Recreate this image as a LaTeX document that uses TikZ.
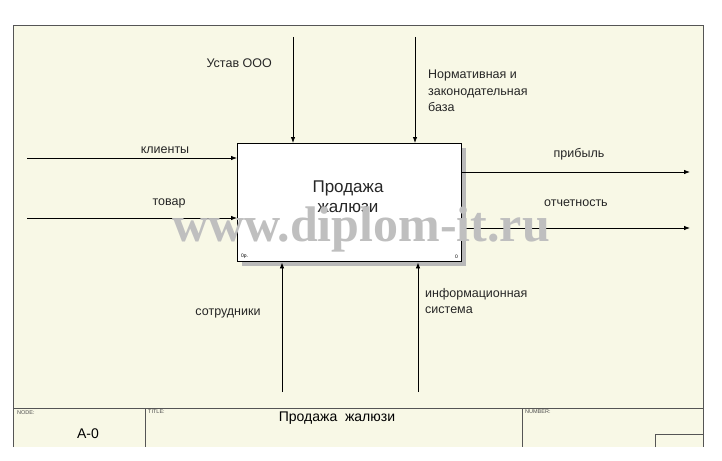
\documentclass[tikz,border=0pt]{standalone}
\usepackage{fontspec}
\setmainfont{Liberation Sans}
\newfontfamily\wmfont{Liberation Serif}
\usetikzlibrary{arrows.meta}
\definecolor{cream}{HTML}{F8F8E6}
\definecolor{framegray}{HTML}{555555}
\begin{document}
\begin{tikzpicture}[x=1pt,y=-1pt,
  frameline/.style={draw=framegray, line width=0.9pt},
  arr/.style={draw=black, line width=0.8pt, -{Latex[length=6pt,width=4.5pt]}},
  lbl/.style={font=\fontsize{12.5}{16.5}\selectfont, inner sep=0pt, text=black!85},
  tiny/.style={font=\fontsize{5.5}{6}\selectfont, inner sep=0pt, anchor=north west, text=black!70}]
\useasboundingbox (0,0) rectangle (722,460);
\fill[white] (0,0) rectangle (722,460);
\fill[cream] (13,25) rectangle (703,447);
\draw[frameline] (13,447) -- (13,25) -- (703,25) -- (703,447);
\draw[frameline] (13,408) -- (703,408);
\draw[frameline] (145,408) -- (145,447);
\draw[frameline] (522,408) -- (522,447);
\draw[frameline] (655,447) -- (655,434) -- (703,434);
% title block
\node[tiny] (nodelbl) at (17,410) {NODE:};
\node[tiny] (titlelbl) at (148,410) {TITLE:};
\node[tiny] (numlbl) at (525,410) {NUMBER:};
\node[font=\fontsize{14}{16}\selectfont, inner sep=0pt] (nodeval) at (88,434) {A-0};
\node[font=\fontsize{14}{16}\selectfont, inner sep=0pt] (titleval) at (337,418) {Продажа\ \ жалюзи};
% activity box
\fill[gray!55] (242,148) rectangle (466,266);
\node[draw=black, line width=1.4pt, fill=white, minimum width=224pt, minimum height=118pt, anchor=north west, inner sep=0pt] (box) at (237,143) {};
\node[font=\fontsize{17}{20}\selectfont, align=center, inner sep=0pt, text=black!85] (boxtext) at (348,197) {Продажа\\жалюзи};
\node[font=\fontsize{5}{6}\selectfont, inner sep=0pt, anchor=south west] (boxnum) at (241,259) {0р.};
\node[font=\fontsize{5}{6}\selectfont, inner sep=0pt, anchor=south east] (boxnum2) at (458,259) {0};
% endpoints
\coordinate (c1) at (293,37);
\coordinate (c2) at (415,37);
\coordinate (i1) at (27,158);
\coordinate (i2) at (27,218);
\coordinate (o1) at (690,172);
\coordinate (o2) at (690,228);
\coordinate (m1) at (282,392);
\coordinate (m2) at (418,392);
% connectors
\draw[arr] (c1) -- (box.north -| c1);
\draw[arr] (c2) -- (box.north -| c2);
\draw[arr] (i1) -- (box.west |- i1);
\draw[arr] (i2) -- (box.west |- i2);
\draw[arr] (box.east |- o1) -- (o1);
\draw[arr] (box.east |- o2) -- (o2);
\draw[arr] (m1) -- (box.south -| m1);
\draw[arr] (m2) -- (box.south -| m2);
% labels
\node[lbl, anchor=east] (lc1) at (272,63) {Устав ООО};
\node[lbl, anchor=north west, align=left] (lc2) at (428,70) {Нормативная и\\законодательная\\база};
\node[lbl] (li1) at (165,150) {клиенты};
\node[lbl] (li2) at (169,203) {товар};
\node[lbl] (lo1) at (579,154) {прибыль};
\node[lbl] (lo2) at (576,203) {отчетность};
\node[lbl] (lm1) at (228,313) {сотрудники};
\node[lbl, anchor=north west, align=left] (lm2) at (425,288) {информационная\\система};
% watermark
\node[font=\wmfont\bfseries\fontsize{50}{55}\selectfont, text=gray!50, inner sep=0pt] (wm) at (361,229) {www.diplom-it.ru};
\end{tikzpicture}
\end{document}
